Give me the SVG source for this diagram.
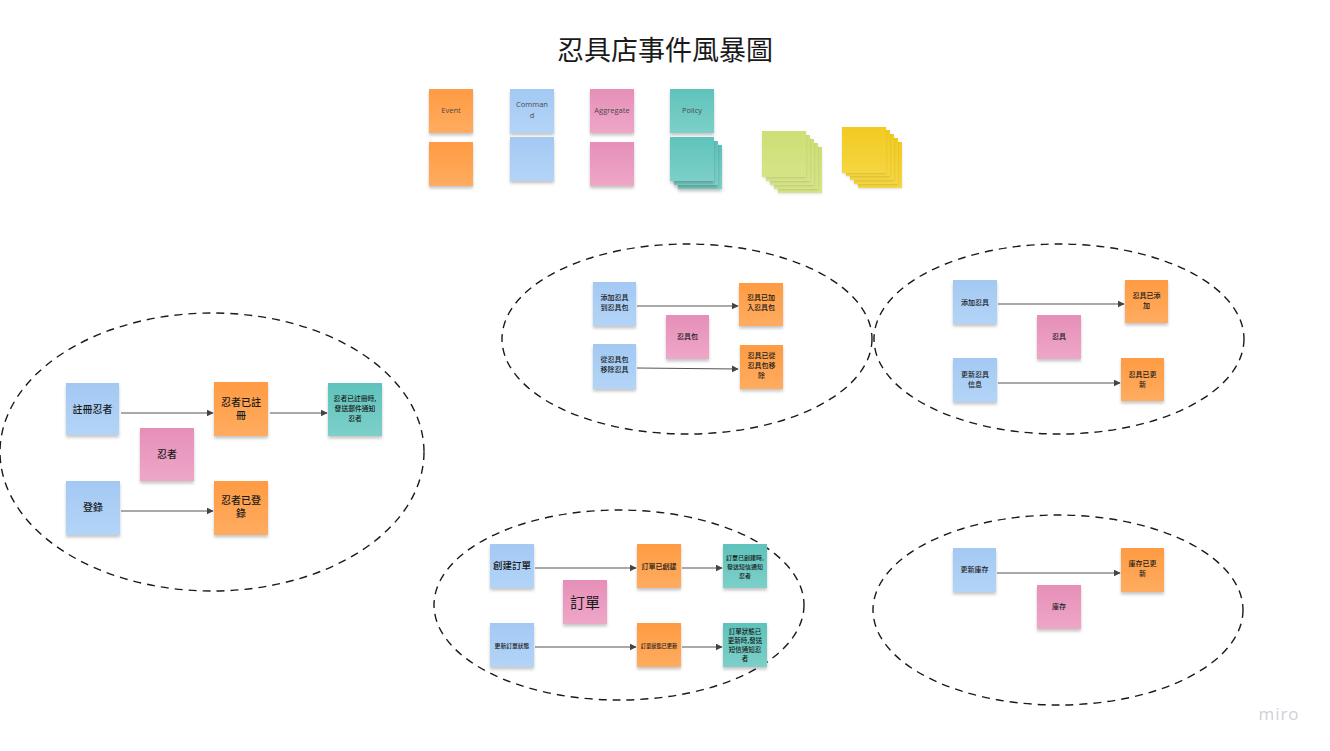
<svg xmlns="http://www.w3.org/2000/svg" width="1330" height="751" viewBox="0 0 1330 751">
<style>
.t{font-family:"Noto Sans CJK TC","Noto Sans",sans-serif;fill:#1a1a1a;text-anchor:middle;font-weight:500}
.lg{font-family:"Open Sans","Liberation Sans",sans-serif;fill:#4a4a4a;font-size:7.5px;text-anchor:middle}
.ev{fill:url(#gOr);filter:url(#sh)}
.cm{fill:url(#gBl);filter:url(#sh)}
.ag{fill:url(#gPk);filter:url(#sh)}
.po{fill:url(#gTl);filter:url(#sh)}
.gr{fill:url(#gGr);filter:url(#sh2)}
.ye{fill:url(#gYe);filter:url(#sh2)}
.el{fill:none;stroke:#1a1a1a;stroke-width:1.4;stroke-dasharray:8 6}
.cn{stroke:#555;stroke-width:1.2;fill:none;marker-end:url(#ar)}
</style>
<defs>
<filter id="sh" x="-20%" y="-20%" width="140%" height="150%"><feDropShadow dx="0" dy="2.5" stdDeviation="1.6" flood-color="#000" flood-opacity="0.22"/></filter>
<filter id="sh2" x="-20%" y="-20%" width="140%" height="150%"><feDropShadow dx="0" dy="1" stdDeviation="0.8" flood-color="#000" flood-opacity="0.12"/></filter>
<linearGradient id="gOr" x1="0" y1="0" x2="0" y2="1"><stop offset="0" stop-color="#FF9B43"/><stop offset="1" stop-color="#FFAC60"/></linearGradient>
<linearGradient id="gBl" x1="0" y1="0" x2="0" y2="1"><stop offset="0" stop-color="#A3C9F3"/><stop offset="1" stop-color="#B3D4F7"/></linearGradient>
<linearGradient id="gPk" x1="0" y1="0" x2="0" y2="1"><stop offset="0" stop-color="#E68FB8"/><stop offset="1" stop-color="#EEA7C7"/></linearGradient>
<linearGradient id="gTl" x1="0" y1="0" x2="0" y2="1"><stop offset="0" stop-color="#5FC3BB"/><stop offset="1" stop-color="#7CD0C9"/></linearGradient>
<linearGradient id="gGr" x1="0" y1="0" x2="0" y2="1"><stop offset="0" stop-color="#CDDF76"/><stop offset="1" stop-color="#D6E487"/></linearGradient>
<linearGradient id="gYe" x1="0" y1="0" x2="0" y2="1"><stop offset="0" stop-color="#F2CB22"/><stop offset="1" stop-color="#F5D540"/></linearGradient>
<marker id="ar" viewBox="0 0 10 10" refX="9" refY="5" markerWidth="7" markerHeight="7" markerUnits="userSpaceOnUse" orient="auto"><path d="M0,0 L10,5 L0,10 Z" fill="#444"/></marker>
</defs>
<rect width="1330" height="751" fill="#fff"/>

<text id="title" x="665" y="60" class="t" font-size="27" style="font-weight:400">忍具店事件風暴圖</text>

<g id="legend">
<rect class="ev" x="429" y="89" width="44" height="44"/><text class="lg" x="451" y="113">Event</text>
<rect class="ev" x="429" y="142" width="44" height="44"/>
<rect class="cm" x="510" y="89" width="44" height="44"/><text class="lg" x="532" y="107">Comman</text><text class="lg" x="532" y="118">d</text>
<rect class="cm" x="510" y="137" width="44" height="44"/>
<rect class="ag" x="590" y="89" width="44" height="44"/><text class="lg" x="612" y="113">Aggregate</text>
<rect class="ag" x="590" y="142" width="44" height="44"/>
<rect class="po" x="670" y="89" width="44" height="44"/><text class="lg" x="692" y="113">Policy</text>
<rect class="po" x="678" y="145" width="44" height="44"/>
<rect class="po" x="674" y="141" width="44" height="44"/>
<rect class="po" x="670" y="137" width="44" height="44"/>
<rect class="gr" x="778" y="147" width="44" height="46"/>
<rect class="gr" x="774" y="143" width="44" height="46"/>
<rect class="gr" x="770" y="139" width="44" height="46"/>
<rect class="gr" x="766" y="135" width="44" height="46"/>
<rect class="gr" x="762" y="131" width="44" height="46"/>
<rect class="ye" x="858" y="142" width="44" height="46"/>
<rect class="ye" x="854" y="138" width="44" height="46"/>
<rect class="ye" x="850" y="134" width="44" height="46"/>
<rect class="ye" x="846" y="130" width="44" height="46"/>
<rect class="ye" x="842" y="127" width="44" height="46"/>
</g>

<g id="boundaries">
<ellipse class="el" cx="212" cy="452" rx="212" ry="139"/>
<ellipse class="el" cx="687" cy="339" rx="185" ry="95"/>
<ellipse class="el" cx="1059" cy="339" rx="185" ry="95"/>
<ellipse class="el" cx="619" cy="605" rx="185" ry="95"/>
<ellipse class="el" cx="1058" cy="610" rx="185" ry="95"/>
</g>

<g id="connectors">
<line class="cn" x1="121" y1="413" x2="213" y2="413"/>
<line class="cn" x1="270" y1="413" x2="327" y2="413"/>
<line class="cn" x1="121" y1="511" x2="213" y2="511"/>
<line class="cn" x1="637" y1="306" x2="738" y2="306"/>
<line class="cn" x1="637" y1="368" x2="738" y2="369"/>
<line class="cn" x1="998" y1="304" x2="1124" y2="304"/>
<line class="cn" x1="998" y1="383" x2="1120" y2="383"/>
<line class="cn" x1="535" y1="568" x2="636" y2="568"/>
<line class="cn" x1="682" y1="568" x2="722" y2="568"/>
<line class="cn" x1="535" y1="647" x2="636" y2="647"/>
<line class="cn" x1="682" y1="647" x2="722" y2="647"/>
<line class="cn" x1="997" y1="573" x2="1120" y2="573"/>
</g>

<g id="n-register-cmd"><rect class="cm" x="66" y="383" width="53" height="52"/><text class="t" x="92.5" y="413" font-size="10">註冊忍者</text></g>
<g id="n-registered-ev"><rect class="ev" x="214" y="382" width="54" height="54"/><text class="t" x="241" y="406" font-size="10">忍者已註</text><text class="t" x="241" y="419" font-size="10">冊</text></g>
<g id="n-registered-pol"><rect class="po" x="328" y="383" width="54" height="53"/><text class="t" x="355" y="401" font-size="6.8">忍者已註冊時,</text><text class="t" x="355" y="411" font-size="6.8">發送郵件通知</text><text class="t" x="355" y="421" font-size="6.8">忍者</text></g>
<g id="n-ninja-agg"><rect class="ag" x="140" y="428" width="54" height="53"/><text class="t" x="167" y="458" font-size="10">忍者</text></g>
<g id="n-login-cmd"><rect class="cm" x="66" y="481" width="54" height="54"/><text class="t" x="93" y="511" font-size="10">登錄</text></g>
<g id="n-login-ev"><rect class="ev" x="214" y="481" width="54" height="54"/><text class="t" x="241" y="504" font-size="10">忍者已登</text><text class="t" x="241" y="517" font-size="10">錄</text></g>

<g id="n-addbag-cmd"><rect class="cm" x="593" y="282" width="43" height="44"/><text class="t" x="614.5" y="300" font-size="7">添加忍具</text><text class="t" x="614.5" y="310" font-size="7">到忍具包</text></g>
<g id="n-addbag-ev"><rect class="ev" x="739" y="283" width="44" height="43"/><text class="t" x="761" y="300" font-size="7">忍具已加</text><text class="t" x="761" y="310" font-size="7">入忍具包</text></g>
<g id="n-bag-agg"><rect class="ag" x="666" y="315" width="43" height="44"/><text class="t" x="687.5" y="339" font-size="7">忍具包</text></g>
<g id="n-rmbag-cmd"><rect class="cm" x="593" y="344" width="43" height="45"/><text class="t" x="614.5" y="362" font-size="7">從忍具包</text><text class="t" x="614.5" y="372" font-size="7">移除忍具</text></g>
<g id="n-rmbag-ev"><rect class="ev" x="740" y="345" width="43" height="44"/><text class="t" x="761.5" y="358" font-size="7">忍具已從</text><text class="t" x="761.5" y="368" font-size="7">忍具包移</text><text class="t" x="761.5" y="378" font-size="7">除</text></g>

<g id="n-addtool-cmd"><rect class="cm" x="953" y="280" width="44" height="44"/><text class="t" x="975" y="305" font-size="7">添加忍具</text></g>
<g id="n-addtool-ev"><rect class="ev" x="1125" y="280" width="43" height="43"/><text class="t" x="1146.5" y="298" font-size="7">忍具已添</text><text class="t" x="1146.5" y="308" font-size="7">加</text></g>
<g id="n-tool-agg"><rect class="ag" x="1037" y="315" width="44" height="44"/><text class="t" x="1059" y="339" font-size="7">忍具</text></g>
<g id="n-updtool-cmd"><rect class="cm" x="953" y="358" width="44" height="44"/><text class="t" x="975" y="377" font-size="7">更新忍具</text><text class="t" x="975" y="387" font-size="7">信息</text></g>
<g id="n-updtool-ev"><rect class="ev" x="1121" y="358" width="43" height="43"/><text class="t" x="1142.5" y="377" font-size="7">忍具已更</text><text class="t" x="1142.5" y="387" font-size="7">新</text></g>

<g id="n-createorder-cmd"><rect class="cm" x="490" y="544" width="44" height="44"/><text class="t" x="512" y="569" font-size="9.5">創建訂單</text></g>
<g id="n-ordercreated-ev"><rect class="ev" x="637" y="544" width="44" height="44"/><text class="t" x="659" y="569" font-size="7">訂單已創建</text></g>
<g id="n-ordercreated-pol"><rect class="po" x="723" y="544" width="44" height="44"/><text class="t" x="745" y="560" font-size="6">訂單已創建時,</text><text class="t" x="745" y="569" font-size="6">發送短信通知</text><text class="t" x="745" y="578" font-size="6">忍者</text></g>
<g id="n-order-agg"><rect class="ag" x="563" y="580" width="44" height="44"/><text class="t" x="585" y="608" font-size="15" style="font-weight:400">訂單</text></g>
<g id="n-updorder-cmd"><rect class="cm" x="490" y="623" width="44" height="44"/><text class="t" x="512" y="648" font-size="5.8">更新訂單狀態</text></g>
<g id="n-orderupdated-ev"><rect class="ev" x="637" y="623" width="44" height="44"/><text class="t" x="659" y="648" font-size="5.2">訂單狀態已更新</text></g>
<g id="n-orderupdated-pol"><rect class="po" x="723" y="623" width="44" height="44"/><text class="t" x="745" y="634" font-size="6.5">訂單狀態已</text><text class="t" x="745" y="643" font-size="6.5">更新時,發送</text><text class="t" x="745" y="652" font-size="6.5">短信通知忍</text><text class="t" x="745" y="661" font-size="6.5">者</text></g>

<g id="n-updstock-cmd"><rect class="cm" x="953" y="548" width="43" height="44"/><text class="t" x="974.5" y="572" font-size="7">更新庫存</text></g>
<g id="n-stockupdated-ev"><rect class="ev" x="1121" y="548" width="43" height="44"/><text class="t" x="1142.5" y="566" font-size="7">庫存已更</text><text class="t" x="1142.5" y="576" font-size="7">新</text></g>
<g id="n-stock-agg"><rect class="ag" x="1037" y="585" width="44" height="44"/><text class="t" x="1059" y="609" font-size="7">庫存</text></g>

<text id="watermark" x="1279" y="720" font-family="'Open Sans','Liberation Sans',sans-serif" font-size="17" fill="#cfd0da" text-anchor="middle" letter-spacing="1">miro</text>
</svg>
